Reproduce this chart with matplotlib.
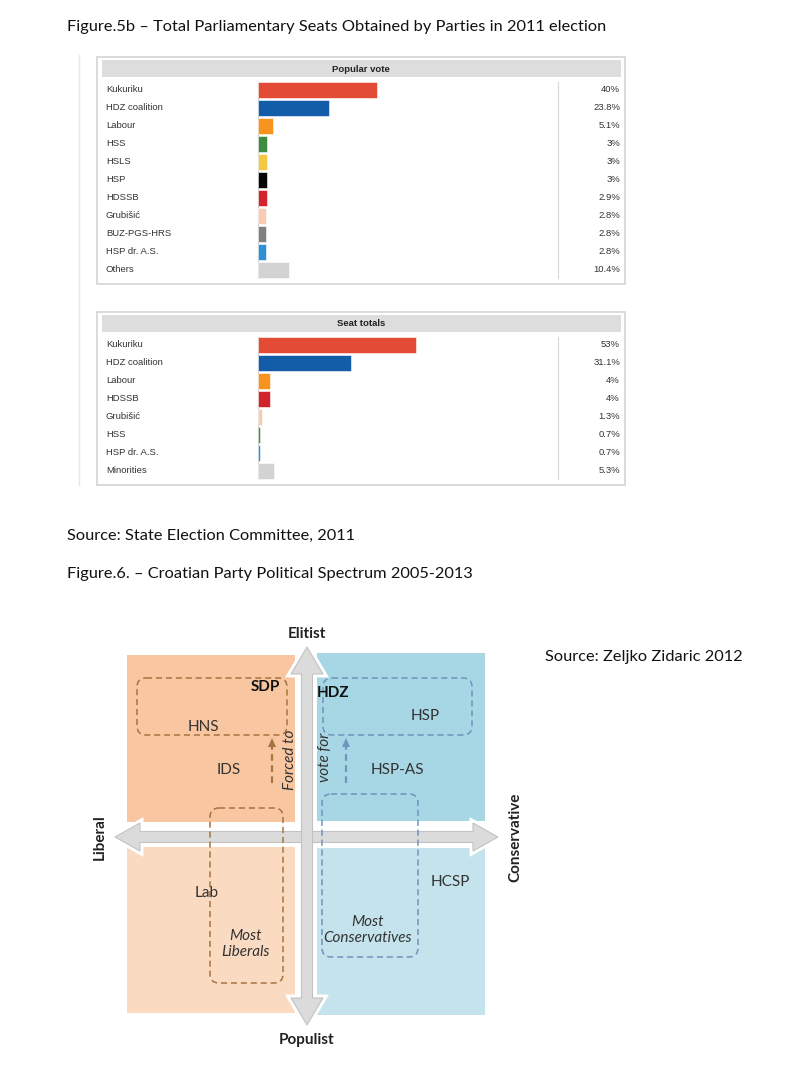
import matplotlib
matplotlib.use("Agg")
import numpy as np
import matplotlib.pyplot as plt
import matplotlib.transforms as mtransforms
from matplotlib.patches import Rectangle, FancyBboxPatch, Polygon

W, H = 785, 1081

# popular vote table
vote_parties = ["Kukuriku", "HDZ coalition", "Labour", "HSS", "HSLS", "HSP", "HDSSB",
                "Grubišić", "BUZ-PGS-HRS", "HSP dr. A.S.", "Others"]
vote_share = [40, 23.8, 5.1, 3, 3, 3, 2.9, 2.8, 2.8, 2.8, 10.4]
vote_colors = ["#E34B37", "#135DA8", "#F7941E", "#3F8B41", "#F3C842", "#050505", "#D1242B",
               "#F9CBB3", "#808080", "#2D90D1", "#D3D3D3"]

# seat totals table
seat_parties = ["Kukuriku", "HDZ coalition", "Labour", "HDSSB", "Grubišić", "HSS",
                "HSP dr. A.S.", "Minorities"]
seat_share = [53, 31.1, 4, 4, 1.3, 0.7, 0.7, 5.3]
seat_colors = ["#E34B37", "#135DA8", "#F7941E", "#D1242B", "#F9CBB3", "#3F8B41",
               "#2D90D1", "#D3D3D3"]

TXT = ["Lato", "DejaVu Sans"]
TAB = ["Liberation Sans", "DejaVu Sans"]

fig = plt.figure(figsize=(W / 100, H / 100), dpi=100)
bg = fig.add_axes([0, 0, 1, 1])
bg.set_xlim(0, W)
bg.set_ylim(H, 0)
bg.axis("off")


def frac(x0, y0, x1, y1):
    return [x0 / W, 1 - y1 / H, (x1 - x0) / W, (y1 - y0) / H]


def table(top, title, parties, shares, colors):
    n = len(parties)
    rows_top = top + 24
    rows_bot = rows_top + 18 * n
    bg.add_patch(Rectangle((97, top), 528, rows_bot + 5 - top, fill=False,
                           edgecolor="#D4D4D4", lw=1.2))
    bg.add_patch(Rectangle((102, top + 3), 519, 17, color="#DDDDDD", lw=0))
    bg.text(361, top + 12, title, ha="center", va="center", fontsize=6.8,
            fontweight="bold", family=TAB, color="#222222")
    bg.plot([258, 258], [rows_top + 1, rows_bot - 1], color="#C8C8C8", lw=0.8)
    bg.plot([558, 558], [rows_top + 1, rows_bot - 1], color="#D8D8D8", lw=0.8)

    ax = fig.add_axes(frac(258, rows_top, 558, rows_bot))
    ax.barh(range(n), shares, height=0.88, color=colors, edgecolor="white", lw=0.4)
    ax.set_xlim(0, 100.7)
    ax.set_ylim(n - 0.5, -0.5)
    ax.axis("off")
    tr = mtransforms.blended_transform_factory(bg.transData, ax.transData)
    for i, (p, s) in enumerate(zip(parties, shares)):
        ax.text(106, i, p, transform=tr, ha="left", va="center", fontsize=6.8,
                family=TAB, color="#333333")
        ax.text(620, i, "%g%%" % s, transform=tr, ha="right", va="center",
                fontsize=6.8, family=TAB, color="#333333")


bg.text(67, 27, "Figure.5b – Total Parliamentary Seats Obtained by Parties in 2011 election",
        ha="left", va="center", fontsize=11.8, family=TXT, color="#111111")
bg.plot([79, 79], [55, 485], color="#E4EAF0", lw=1)
table(57, "Popular vote", vote_parties, vote_share, vote_colors)
table(312, "Seat totals", seat_parties, seat_share, seat_colors)

bg.text(67, 536, "Source: State Election Committee, 2011", ha="left", va="center",
        fontsize=11.8, family=TXT, color="#111111")
bg.text(67, 574, "Figure.6. – Croatian Party Political Spectrum 2005-2013", ha="left",
        va="center", fontsize=11.8, family=TXT, color="#111111")
bg.text(545, 657, "Source: Zeljko Zidaric 2012", ha="left", va="center",
        fontsize=11.8, family=TXT, color="#111111")

# quadrants
bg.add_patch(Rectangle((127, 655), 168, 167, color="#F8C6A1", lw=0))
bg.add_patch(Rectangle((317, 653), 168, 168, color="#A7D7E4", lw=0))
bg.add_patch(Rectangle((127, 847), 168, 166, color="#FBDAC2", lw=0))
bg.add_patch(Rectangle((317, 848), 168, 167, color="#C4E3EC", lw=0))


def arrow_pts(x0, y0, x1, y1, sw=5.5, hw=16, hl=27):
    p0, p1 = np.array([x0, y0], float), np.array([x1, y1], float)
    d = (p1 - p0) / np.hypot(*(p1 - p0))
    nrm = np.array([-d[1], d[0]])
    return [p0, p0 + d * hl + nrm * hw, p0 + d * hl + nrm * sw,
            p1 - d * hl + nrm * sw, p1 - d * hl + nrm * hw, p1,
            p1 - d * hl - nrm * hw, p1 - d * hl - nrm * sw,
            p0 + d * hl - nrm * sw, p0 + d * hl - nrm * hw]


arrows = [arrow_pts(115, 837, 498, 837, hl=25, hw=14), arrow_pts(307, 647, 307, 1025)]
for pts in arrows:
    bg.add_patch(Polygon(pts, closed=True, facecolor="white", edgecolor="white",
                         lw=5, zorder=3))
for pts in arrows:
    bg.add_patch(Polygon(pts, closed=True, facecolor="#DBDBDB", edgecolor="#C2C2C2",
                         lw=0.8, zorder=3))

bg.text(307, 634, "Elitist", ha="center", va="center", fontsize=11, fontweight="bold",
        family=TXT, color="#222222")
bg.text(307, 1040, "Populist", ha="center", va="center", fontsize=11, fontweight="bold",
        family=TXT, color="#222222")
bg.text(100, 837, "Liberal", ha="center", va="center", rotation=90, fontsize=11,
        fontweight="bold", family=TXT, color="#222222")
bg.text(515, 837, "Conservative", ha="center", va="center", rotation=90, fontsize=11,
        fontweight="bold", family=TXT, color="#222222")

orange_d = "#A6743F"
blue_d = "#6F94BE"
for (x0, y0, x1, y1, c) in [(137, 678, 287, 735, orange_d), (323, 678, 472, 735, blue_d),
                            (210, 808, 283, 983, orange_d), (322, 794, 418, 957, blue_d)]:
    bg.add_patch(FancyBboxPatch((x0, y0), x1 - x0, y1 - y0,
                                boxstyle="round,pad=0,rounding_size=9", fill=False,
                                edgecolor=c, lw=1.1, linestyle=(0, (4, 2.5)), zorder=4))

# dashed "forced to vote for" arrows
for x, c in [(272, orange_d), (346, blue_d)]:
    bg.plot([x, x], [783, 746], color=c, lw=1.6, linestyle=(0, (3, 2)), zorder=4)
    bg.add_patch(Polygon([(x, 738), (x - 4, 747), (x + 4, 747)], closed=True,
                         color=c, lw=0, zorder=4))

lab = dict(ha="center", va="center", fontsize=11, family=TXT, color="#333333", zorder=5)
bg.text(265, 687, "SDP", fontweight="bold", **{**lab, "color": "#111111"})
bg.text(333, 693, "HDZ", fontweight="bold", **{**lab, "color": "#111111"})
bg.text(203, 727, "HNS", **lab)
bg.text(425, 716, "HSP", **lab)
bg.text(229, 770, "IDS", **lab)
bg.text(397, 770, "HSP-AS", **lab)
bg.text(207, 893, "Lab", **lab)
bg.text(450, 882, "HCSP", **lab)
bg.text(290, 760, "Forced to", rotation=90, style="italic", **lab)
bg.text(325, 757, "vote for", rotation=90, style="italic", **lab)
bg.text(246, 944, "Most\nLiberals", style="italic", linespacing=1.15, **lab)
bg.text(368, 930, "Most\nConservatives", style="italic", linespacing=1.15, **lab)

fig.savefig("out.png", dpi=100)
